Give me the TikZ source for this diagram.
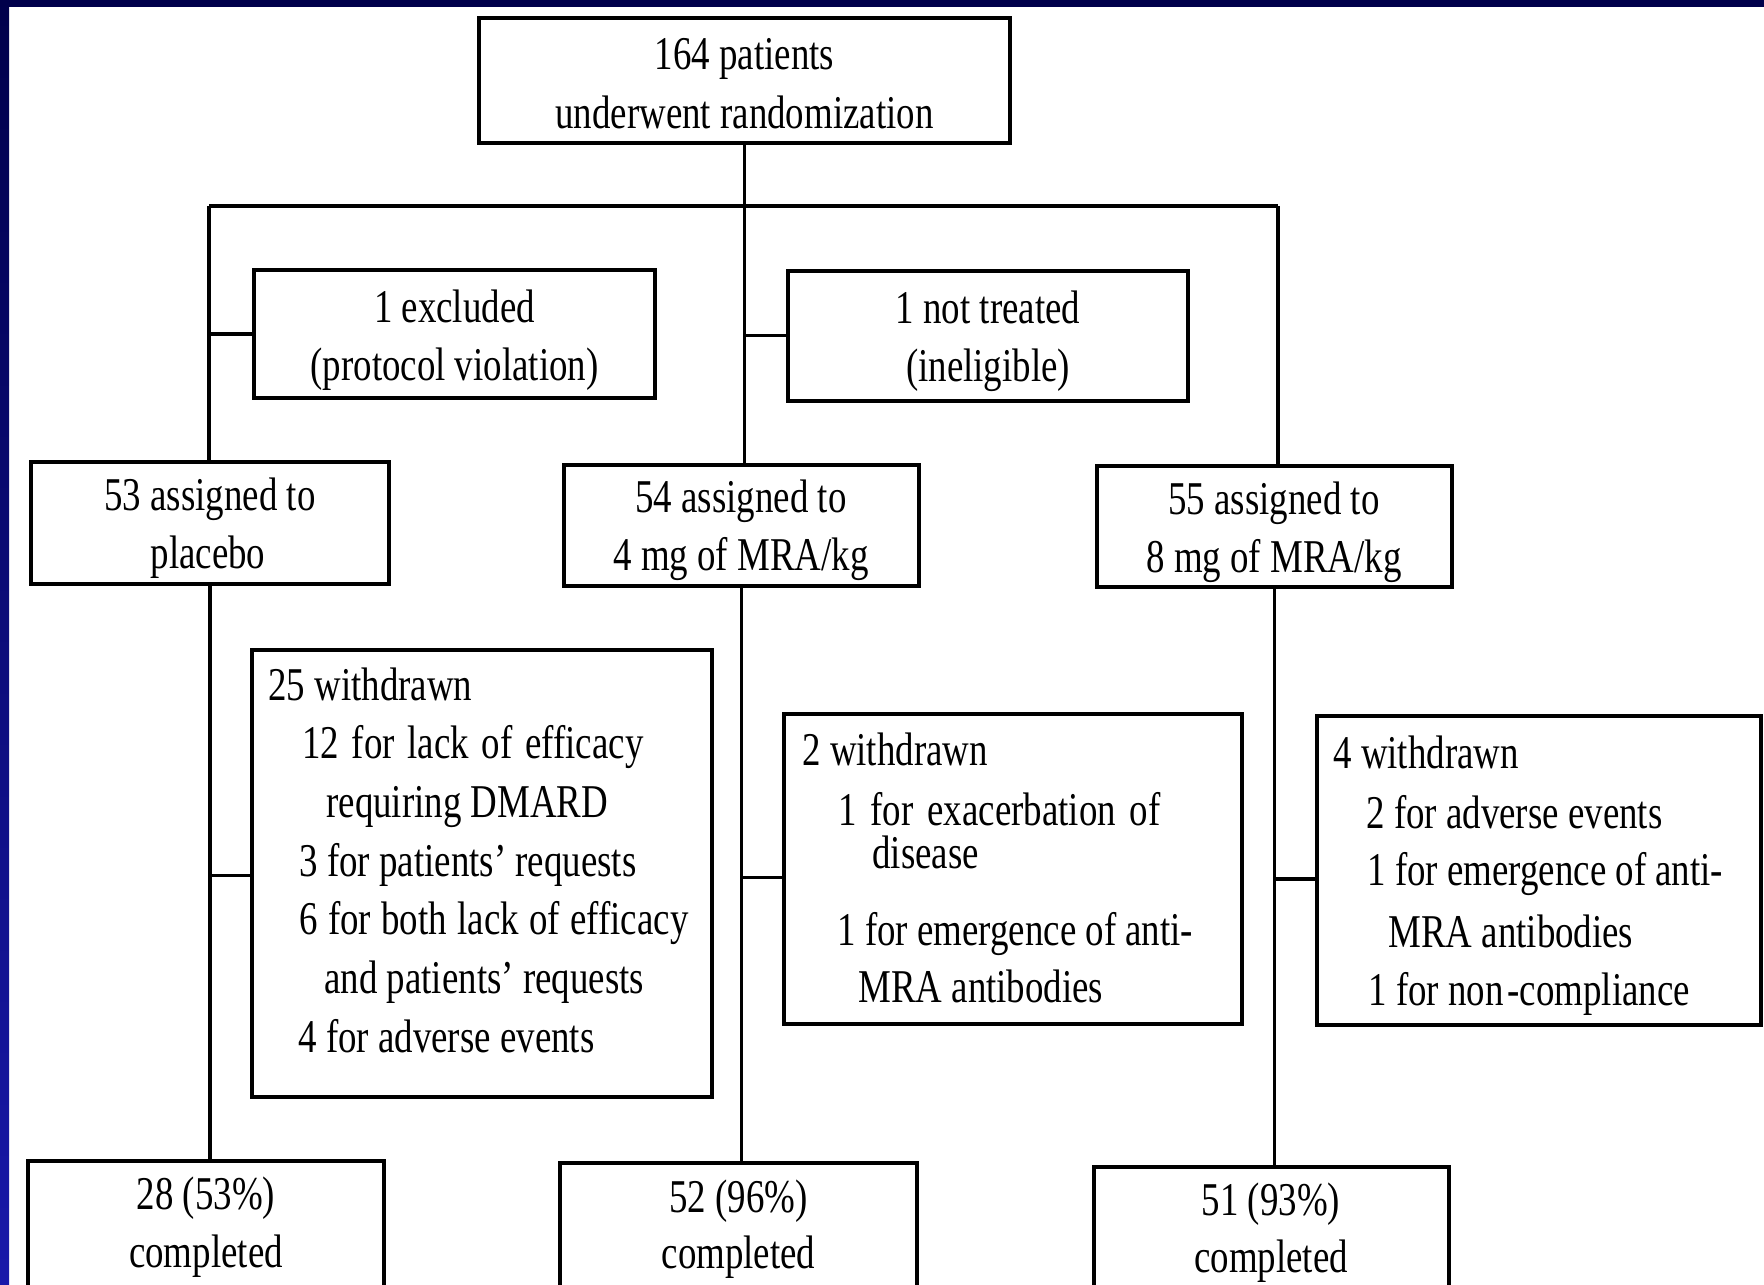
\documentclass[tikz,border=0pt]{standalone}
\usepackage{fontspec}
\setmainfont{Liberation Serif}[FakeStretch=0.785]
\usetikzlibrary{calc}
\definecolor{navy}{RGB}{0,0,75}
\definecolor{blueb}{RGB}{25,25,170}
\begin{document}
\begin{tikzpicture}[x=0.5pt,y=-0.5pt,
  box/.style={draw,line width=2pt,fill=white,inner sep=0pt,rectangle},
  sz/.style 2 args={minimum width=#1*0.5pt,minimum height=#2*0.5pt},
  conn/.style={line width=1.7pt},
  tx/.style={inner sep=0pt,anchor=base,font=\fontsize{23.5}{28}\selectfont},
  txl/.style={tx,anchor=base west}]
\useasboundingbox (0,0) rectangle (1764,1284);
\fill[white] (0,0) rectangle (1764,1284);
\fill[navy] (0,0) rectangle (1764,7);
\shade[top color=navy,bottom color=blueb] (0,0) rectangle (9,1284);

% boxes
\node[box,sz={531}{125}] (top) at (744.5,80.5) {};
\node[box,sz={401}{128}] (excl) at (454.5,334) {};
\node[box,sz={400.5}{129.5}] (nott) at (987.75,335.75) {};
\node[box,sz={358}{122}] (arm1) at (210,523) {};
\node[box,sz={355}{121}] (arm2) at (741.3,525.3) {};
\node[box,sz={355}{121}] (arm3) at (1274.5,526.5) {};
\node[box,sz={460}{447.5}] (w1) at (482,873.25) {};
\node[box,sz={458}{310}] (w2) at (1013,868.5) {};
\node[box,sz={444}{309}] (w3) at (1539,870) {};
\node[box,sz={356}{131}] (c1) at (206,1226.5) {};
\node[box,sz={357}{129.5}] (c2) at (738.5,1227.25) {};
\node[box,sz={355.5}{125}] (c3) at (1271.25,1229.5) {};

% connectors
\coordinate (busL) at (209,206);
\coordinate (busR) at (1278,206);
\draw[conn] (busL) -- (busR);
\draw[conn] (top.south) -- (top.south |- arm2.north);
\draw[conn] (busL) -- (busL |- arm1.north);
\draw[conn] (busR) -- (busR |- arm3.north);
\draw[conn] (excl.west) -- (excl.west -| busL);
\draw[conn] (nott.west) -- (nott.west -| top.south);
\draw[conn] (arm1.south) -- (arm1.south |- c1.north);
\draw[conn] (arm2.south) -- (arm2.south |- c2.north);
\draw[conn] (arm3.south) -- (arm3.south |- c3.north);
\coordinate (w1c) at ([yshift=-1pt]w1.west);
\coordinate (w2c) at ([yshift=-4.5pt]w2.west);
\coordinate (w3c) at ([yshift=-4.5pt]w3.west);
\draw[conn] (w1c) -- (w1c -| arm1.south);
\draw[conn] (w2c) -- (w2c -| arm2.south);
\draw[conn] (w3c) -- (w3c -| arm3.south);

% texts
\node[tx] (top1) at (744.5,70) {164 patients};
\node[tx] (top2) at (744.5,128) {underwent randomization};
\node[tx] (ex1) at (454.5,322) {1 excluded};
\node[tx] (ex2) at (454.5,380) {(protocol violation)};
\node[tx] (nt1) at (988,323) {1 not treated};
\node[tx] (nt2) at (988,381) {(ineligible)};
\node[tx] (a11) at (210,510) {53 assigned to};
\node[tx] (a12) at (208,568) {placebo};
\node[tx] (a21) at (741,512) {54 assigned to};
\node[tx] (a22) at (741,570) {4 mg of MRA/kg};
\node[tx] (a31) at (1274,514) {55 assigned to};
\node[tx] (a32) at (1274,572) {8 mg of MRA/kg};
\node[tx] (c11) at (206,1209) {28 (53\%)};
\node[tx] (c12) at (206,1267) {completed};
\node[tx] (c21) at (738.5,1212) {52 (96\%)};
\node[tx] (c22) at (738.5,1268) {completed};
\node[tx] (c31) at (1271,1215) {51 (93\%)};
\node[tx] (c32) at (1271,1272) {completed};

\node[txl] (w11) at (268,700) {25 withdrawn};
\node[txl] (w12) at (302,758.7) {\makebox[170.5pt][s]{12 for lack of efficacy}};
\node[txl] (w13) at (326,817.4) {requiring DMARD};
\node[txl] (w14) at (299,876) {3 for patients’ requests};
\node[txl] (w15) at (299,934.8) {\makebox[194.5pt][s]{6 for both lack of efficacy}};
\node[txl] (w16) at (324,993.5) {and patients’ requests};
\node[txl] (w17) at (298,1052.2) {4 for adverse events};

\node[txl] (w21) at (802,765) {2 withdrawn};
\node[txl] (w22) at (838,825) {\makebox[161pt][s]{1 for exacerbation of}};
\node[txl] (w23) at (872,868) {disease};
\node[txl] (w24) at (837,945) {1 for emergence of anti-};
\node[txl] (w25) at (858,1002) {MRA antibodies};

\node[txl] (w31) at (1333,768) {4 withdrawn};
\node[txl] (w32) at (1366,828) {2 for adverse events};
\node[txl] (w33) at (1367,885) {1 for emergence of anti-};
\node[txl] (w34) at (1388,947) {MRA antibodies};
\node[txl] (w35) at (1368,1005) {1 for non\kern2pt-compliance};
\end{tikzpicture}
\end{document}
